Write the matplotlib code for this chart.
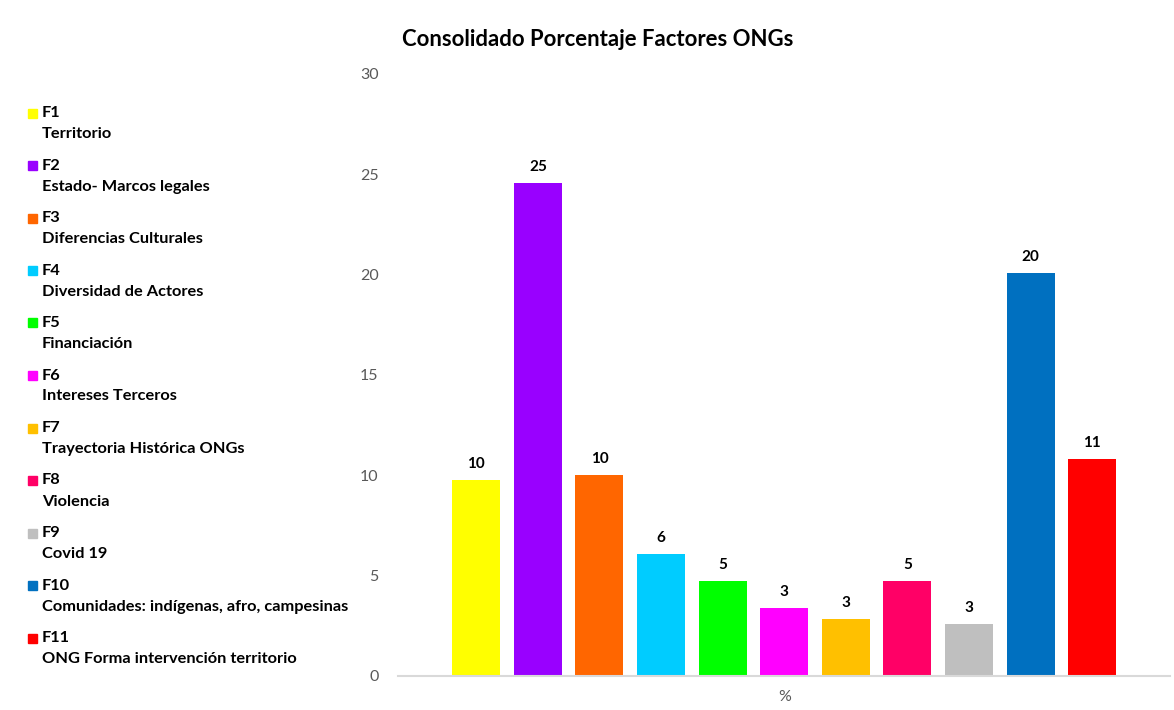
import matplotlib.pyplot as plt
from matplotlib.patches import Rectangle

# Data
codes = ["F1", "F2", "F3", "F4", "F5", "F6", "F7", "F8", "F9", "F10", "F11"]
names = ["Territorio", "Estado- Marcos legales", "Diferencias Culturales",
         "Diversidad de Actores", "Financiación", "Intereses Terceros",
         "Trayectoria Histórica ONGs", "Violencia", "Covid 19",
         "Comunidades: indígenas, afro, campesinas",
         "ONG Forma intervención territorio"]
values = [9.77, 24.56, 10.01, 6.08, 4.73, 3.39, 2.84, 4.73, 2.59, 20.08, 10.81]
colors = ["#FFFF00", "#9900FF", "#FF6600", "#00CCFF", "#00FF00", "#FF00FF",
          "#FFC000", "#FF0066", "#BFBFBF", "#0070C0", "#FF0000"]
category = "%"

plt.rcParams['font.family'] = ['Lato', 'DejaVu Sans']

fig = plt.figure(figsize=(11.74, 7.1), dpi=100)
ax = fig.add_axes([0.339, 0.048, 0.658, 0.848])

x = list(range(len(values)))
ax.bar(x, values, width=0.78, color=colors)

# value labels
for xi, v in zip(x, values):
    ax.text(xi, v + 0.45, f"{round(v):d}", ha='center', va='bottom',
            fontsize=11, fontweight='bold', color='#000000')

ax.set_xlim(-1.27, 11.27)
ax.set_ylim(0, 30)
ax.set_yticks(range(0, 31, 5))
ax.tick_params(axis='y', length=0, labelsize=11.5, colors='#595959', pad=14)
ax.set_xticks([5])
ax.set_xticklabels([category])
ax.tick_params(axis='x', length=0, labelsize=11.5, colors='#595959', pad=10)

for s in ['top', 'right', 'left']:
    ax.spines[s].set_visible(False)
ax.spines['bottom'].set_color('#D9D9D9')
ax.spines['bottom'].set_linewidth(1.5)

# title
fig.text(0.509, 0.945, "Consolidado Porcentaje Factores ONGs", ha='center',
         va='center', fontsize=15.9, fontweight='bold')

# manual legend on the left
y0 = 710 - 113
step = 52.5
for i, (c, n, col) in enumerate(zip(codes, names, colors)):
    yy = (y0 - i * step) / 710
    fig.patches.append(Rectangle((28 / 1174, yy - 4.5 / 710), 9 / 1174, 9 / 710,
                                 transform=fig.transFigure, color=col))
    fig.text(42 / 1174, yy, c, ha='left', va='center', fontsize=11.8,
             fontweight='bold')
    fig.text(42 / 1174, yy - 21 / 710, n, ha='left', va='center', fontsize=11.8,
             fontweight='bold')

fig.savefig("out.png", dpi=100)
